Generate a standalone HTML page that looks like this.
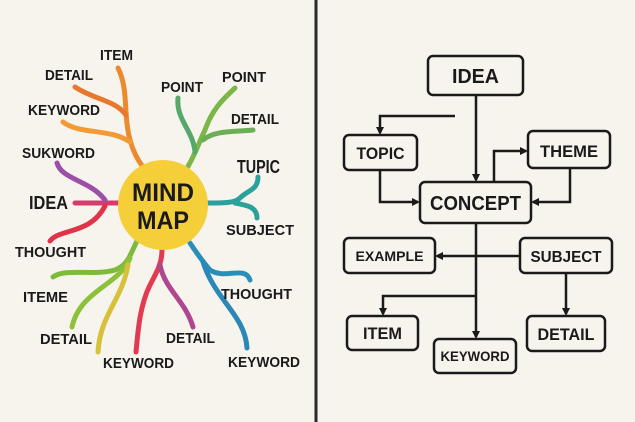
<!DOCTYPE html>
<html><head><meta charset="utf-8"><style>
html,body{margin:0;padding:0;background:#f7f4ee;}
svg{display:block}
text{font-family:"Liberation Sans",sans-serif;font-weight:bold;fill:#1a1a1a;}
</style></head><body>
<svg width="635" height="422" viewBox="0 0 635 422" xmlns="http://www.w3.org/2000/svg">
<defs>
<marker id="ar" markerWidth="8" markerHeight="8" refX="6" refY="4" orient="auto" markerUnits="userSpaceOnUse"><path d="M0,0 L8,4 L0,8 Z" fill="#1a1a1a"/></marker>
</defs>
<rect width="635" height="422" fill="#f7f4ee"/>
<line x1="316" y1="0" x2="316" y2="422" stroke="#2a2a2a" stroke-width="3"/>

<g fill="none" stroke-width="5" stroke-linecap="round">
<path d="M143,167 C130,150 127,130 126,112 C125,92 124,80 118,68" stroke="#ec8a2e"/>
<path d="M126,115 C115,100 95,100 75,87" stroke="#e7782e"/>
<path d="M130,142 C110,128 80,135 63,122" stroke="#f29a34"/>
<path d="M187,168 C195,155 200,140 205,130 C212,110 222,100 235,88" stroke="#7ab648"/>
<path d="M203,140 C215,130 235,132 253,130" stroke="#6aae55"/>
<path d="M195,152 C193,130 176,120 178,98" stroke="#55a86a"/>
<path d="M208,203 C225,203 235,203 240,198 C248,190 258,190 258,177" stroke="#2aa19a"/>
<path d="M235,203 C245,205 257,206 257,218" stroke="#2aa19a"/>
<path d="M75,203 L118,203" stroke="#d63b6e"/>
<path d="M57,163 C62,180 90,180 105,200" stroke="#9b4fa6"/>
<path d="M50,241 C60,228 90,235 105,206" stroke="#e0344a"/>
<path d="M137,241 C130,255 128,265 115,270 C95,276 65,268 53,277" stroke="#7dbb3a"/>
<path d="M130,258 C120,285 80,290 72,327" stroke="#8dc13a"/>
<path d="M128,265 C122,300 100,315 98,352" stroke="#d8c13a"/>
<path d="M162,250 C162,262 158,270 150,285 C140,305 138,330 136,352" stroke="#e23a50"/>
<path d="M160,265 C165,290 185,300 193,327" stroke="#b0468e"/>
<path d="M190,243 C198,255 203,262 210,270 C225,280 245,265 250,280" stroke="#2a8fb8"/>
<path d="M203,262 C215,300 245,315 247,348" stroke="#2a88b8"/>
</g>
<circle cx="163" cy="205" r="45" fill="#f5cf3a"/>
<text x="163" y="201" font-size="25" text-anchor="middle" textLength="62" lengthAdjust="spacingAndGlyphs">MIND</text>
<text x="163" y="229" font-size="25" text-anchor="middle" textLength="52" lengthAdjust="spacingAndGlyphs">MAP</text>

<g font-size="15" lengthAdjust="spacingAndGlyphs">
<text x="100" y="60" textLength="33" lengthAdjust="spacingAndGlyphs">ITEM</text>
<text x="45" y="80" textLength="48" lengthAdjust="spacingAndGlyphs">DETAIL</text>
<text x="28" y="115" textLength="72" lengthAdjust="spacingAndGlyphs">KEYWORD</text>
<text x="22" y="158" textLength="73" lengthAdjust="spacingAndGlyphs">SUKWORD</text>
<text x="29" y="209" font-size="18" textLength="39" lengthAdjust="spacingAndGlyphs">IDEA</text>
<text x="15" y="257" textLength="71" lengthAdjust="spacingAndGlyphs">THOUGHT</text>
<text x="23" y="302" textLength="45" lengthAdjust="spacingAndGlyphs">ITEME</text>
<text x="40" y="344" textLength="52" lengthAdjust="spacingAndGlyphs">DETAIL</text>
<text x="103" y="368" textLength="71" lengthAdjust="spacingAndGlyphs">KEYWORD</text>
<text x="166" y="343" textLength="49" lengthAdjust="spacingAndGlyphs">DETAIL</text>
<text x="228" y="367" textLength="72" lengthAdjust="spacingAndGlyphs">KEYWORD</text>
<text x="221" y="299" textLength="71" lengthAdjust="spacingAndGlyphs">THOUGHT</text>
<text x="226" y="235" textLength="68" lengthAdjust="spacingAndGlyphs">SUBJECT</text>
<text x="237" y="173" font-size="18" textLength="43" lengthAdjust="spacingAndGlyphs">TUPIC</text>
<text x="231" y="124" textLength="48" lengthAdjust="spacingAndGlyphs">DETAIL</text>
<text x="222" y="82" textLength="44" lengthAdjust="spacingAndGlyphs">POINT</text>
<text x="161" y="92" textLength="42" lengthAdjust="spacingAndGlyphs">POINT</text>
</g>

<g fill="none" stroke="#1a1a1a" stroke-width="2.5">
<line x1="476" y1="95" x2="476" y2="180" marker-end="url(#ar)"/>
<polyline points="455,116 380,116 380,133" marker-end="url(#ar)"/>
<polyline points="380,170 380,202 418,202" marker-end="url(#ar)"/>
<polyline points="494,182 494,151 526,151" marker-end="url(#ar)"/>
<polyline points="570,168 570,202 533,202" marker-end="url(#ar)"/>
<line x1="476" y1="223" x2="476" y2="337" marker-end="url(#ar)"/>
<line x1="520" y1="256" x2="437" y2="256" marker-end="url(#ar)"/>
<polyline points="476,296 383,296 383,314" marker-end="url(#ar)"/>
<line x1="566" y1="273" x2="566" y2="314" marker-end="url(#ar)"/>
</g>
<g fill="#f7f4ee" stroke="#1a1a1a" stroke-width="2.5">
<rect x="428" y="56" width="95" height="39" rx="5"/>
<rect x="344" y="135" width="73" height="35" rx="5"/>
<rect x="528" y="131" width="82" height="37" rx="5"/>
<rect x="420" y="182" width="111" height="41" rx="5"/>
<rect x="344" y="238" width="91" height="35" rx="5"/>
<rect x="520" y="238" width="92" height="35" rx="5"/>
<rect x="347" y="316" width="71" height="34" rx="5"/>
<rect x="434" y="339" width="82" height="34" rx="5"/>
<rect x="527" y="316" width="78" height="35" rx="5"/>
</g>
<g text-anchor="middle">
<text x="475.5" y="83" font-size="20" textLength="47" lengthAdjust="spacingAndGlyphs">IDEA</text>
<text x="380.5" y="159" font-size="17" textLength="48" lengthAdjust="spacingAndGlyphs">TOPIC</text>
<text x="569" y="157" font-size="17" textLength="58" lengthAdjust="spacingAndGlyphs">THEME</text>
<text x="475.5" y="210" font-size="20" textLength="91" lengthAdjust="spacingAndGlyphs">CONCEPT</text>
<text x="389.5" y="261" font-size="14" textLength="68" lengthAdjust="spacingAndGlyphs">EXAMPLE</text>
<text x="566" y="262" font-size="16" textLength="71" lengthAdjust="spacingAndGlyphs">SUBJECT</text>
<text x="382.5" y="339" font-size="17" textLength="39" lengthAdjust="spacingAndGlyphs">ITEM</text>
<text x="475" y="361" font-size="14" textLength="69" lengthAdjust="spacingAndGlyphs">KEYWORD</text>
<text x="566" y="340" font-size="17" textLength="57" lengthAdjust="spacingAndGlyphs">DETAIL</text>
</g>
</svg>
</body></html>
